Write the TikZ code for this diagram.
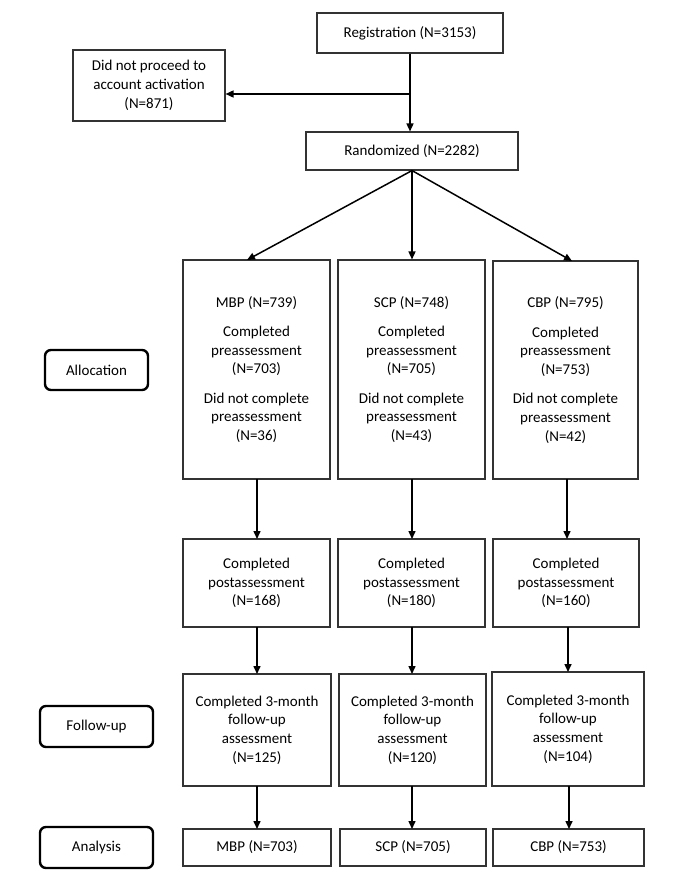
\documentclass[tikz,border=0pt]{standalone}
\usepackage{fontspec}
\setmainfont{Carlito}
\usetikzlibrary{arrows.meta}
\begin{document}
\begin{tikzpicture}[x=1pt,y=-1pt,
  every node/.style={font=\fontsize{15}{18.7}\selectfont, align=center, inner sep=0pt},
  box/.style={draw=black!80, line width=1.1pt, rectangle},
  lbl/.style={draw=black, line width=2.4pt, rounded corners=6pt, rectangle},
  arr/.style={draw=black, line width=1.5pt, -{Triangle[length=8pt,width=7pt]}}]
\useasboundingbox (0,0) rectangle (687,893);
% top part
\node[box, minimum width=186pt, minimum height=40pt] (reg) at (410,33) {Registration (N=3153)};
\node[box, minimum width=152pt, minimum height=71pt] (dnp) at (149,85.5) {Did not proceed to\\account activation\\(N=871)};
\node[box, minimum width=212pt, minimum height=38pt] (rand) at (412,151) {Randomized (N=2282)};
% allocation row
\node[box, minimum width=147pt, minimum height=219pt] (mbp) at (256.5,369.5) {MBP (N=739)\\[10.6pt]Completed\\preassessment\\(N=703)\\[10.6pt]Did not complete\\preassessment\\(N=36)};
\node[box, minimum width=147pt, minimum height=219pt] (scp) at (411.5,369.5) {SCP (N=748)\\[10.6pt]Completed\\preassessment\\(N=705)\\[10.6pt]Did not complete\\preassessment\\(N=43)};
\node[box, minimum width=145pt, minimum height=218pt] (cbp) at (565.5,370) {CBP (N=795)\\[10.6pt]Completed\\preassessment\\(N=753)\\[10.6pt]Did not complete\\preassessment\\(N=42)};
% post row
\node[box, minimum width=147pt, minimum height=88pt] (post1) at (256.5,583) {Completed\\postassessment\\(N=168)};
\node[box, minimum width=147pt, minimum height=88pt] (post2) at (411.5,583) {Completed\\postassessment\\(N=180)};
\node[box, minimum width=146pt, minimum height=88pt] (post3) at (566,583) {Completed\\postassessment\\(N=160)};
% follow-up row
\node[box, minimum width=148pt, minimum height=112pt] (fu1) at (257,730) {Completed 3-month\\follow-up\\assessment\\(N=125)};
\node[box, minimum width=147pt, minimum height=112pt] (fu2) at (412.5,730) {Completed 3-month\\follow-up\\assessment\\(N=120)};
\node[box, minimum width=152pt, minimum height=114pt] (fu3) at (568,729) {Completed 3-month\\follow-up\\assessment\\(N=104)};
% analysis row
\node[box, minimum width=148pt, minimum height=37pt] (an1) at (257,847.5) {MBP (N=703)};
\node[box, minimum width=146pt, minimum height=37pt] (an2) at (413,847.5) {SCP (N=705)};
\node[box, minimum width=151pt, minimum height=37pt] (an3) at (568.5,847.5) {CBP (N=753)};
% side labels
\node[lbl, minimum width=103pt, minimum height=40pt] (lalloc) at (96.5,370) {Allocation};
\node[lbl, minimum width=113pt, minimum height=41pt] (lfu) at (96.5,726.5) {Follow-up};
\node[lbl, minimum width=113pt, minimum height=41pt] (lan) at (96.5,847.5) {Analysis};
% connectors
\coordinate (j) at (410,94);
\draw[arr] (reg.south) -- (reg.south |- rand.north);
\draw[arr] (j) -- (dnp.east |- j);
\draw[arr] (rand.south) -- (247,260);
\draw[arr] (rand.south) -- (rand.south |- scp.north);
\draw[arr] (rand.south) -- (572,261);
\draw[arr] (257,479) -- (257,539);
\draw[arr] (412,479) -- (412,539);
\draw[arr] (567,479) -- (567,539);
\draw[arr] (257,627) -- (257,674);
\draw[arr] (412,627) -- (412,674);
\draw[arr] (568,627) -- (568,672);
\draw[arr] (257,786) -- (257,829);
\draw[arr] (412,786) -- (412,829);
\draw[arr] (569,786) -- (569,829);
\end{tikzpicture}
\end{document}
